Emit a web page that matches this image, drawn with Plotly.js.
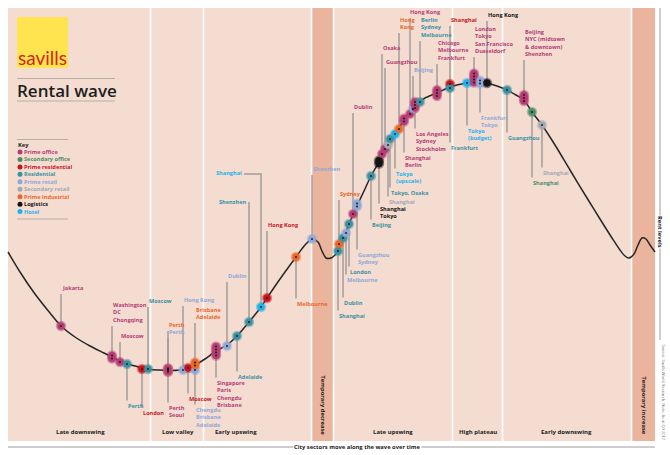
<!DOCTYPE html>
<html><head><meta charset="utf-8">
<script src="https://cdn.plot.ly/plotly-3.0.1.min.js"></script>
<style>html,body{margin:0;padding:0;background:#fff}#chart{width:670px;height:455px}</style>
</head><body><div id="chart"></div>
<script>
// ---------------- DATA ----------------
// The rental wave: position along the cycle (x) and rent level (y, drawn on a downward screen axis)
const waveX = [8,20,35,50,61,75,90,104,112,120,127,135,142,150,160,170,180,188,195,205,216,227,237,249,261,267,280,296,305,312,318,322,326,331,335,338,343,349,357,364,371,379,388,395,404,415,425,437,450,467,480,487,497,507,516,524,532,542,555,570,587,600,612,620,625,629,634,638,642,646,650,655];
const waveY = [252,272,294,313,326,337,346,353,357,361,364,366,368,369.5,370,370.5,370,368,365,359,351,345,336,322,307,298,279,257,245,239,242,251,258,258,255,251,239,224,206,191,176,162,146,134,120,105,98,93,87,83,82,83,86,90,95,100,112,125,145,170,198,219,238,250,256,258,254,245,238,239,245,252];

const sectorNames = ['Prime office','Secondary office','Prime residential','Residential','Prime retail','Secondary retail','Prime industrial','Logistics','Hotel'];
const sectorColors = ['#b53d76','#4e8c6b','#c5161f','#3a92a1','#8ea8d8','#a3a9b3','#e9682b','#141414','#1fb2ea'];

const cityNames = ['Jakarta','Washington<br>DC<br>Chongqing','Moscow','Perth','London','Moscow','Perth','Perth','Perth<br>Seoul','Hong Kong','Moscow','Chengdu<br>Brisbane<br>Adelaide','Brisbane<br>Adelaide','Singapore<br>Paris<br>Chengdu<br>Brisbane','Dublin','Adelaide','Shenzhen','Shanghai','Hong Kong','Melbourne','Shenzhen','Shanghai','Sydney','Dublin','Melbourne','London','Dublin','Guangzhou<br>Sydney','Beijing','Shanghai<br>Tokyo','Osaka','Guangzhou','Shanghai','Tokyo, Osaka','Tokyo<br>(upscale)','Hong<br>Kong','Shanghai<br>Berlin','Hong Kong','Beijing','Los Angeles<br>Sydney<br>Stockholm','Berlin<br>Sydney<br>Melbourne','Chicago<br>Melbourne<br>Frankfurt','Shanghai','Frankfurt','Tokyo<br>(budget)','London<br>Tokyo<br>San Francisco<br>Dusseldorf','Frankfurt<br>Tokyo','Hong Kong','Guangzhou','Beijing<br>NYC (midtown<br>& downtown)<br>Shenzhen','Shanghai','Shanghai'];
const citySector = [0,0,0,3,2,3,6,4,0,4,2,4,6,0,4,3,3,8,2,6,4,3,6,3,4,3,0,4,3,7,0,0,5,3,8,6,0,0,4,0,3,0,2,3,8,0,4,7,3,0,1,5];
const cityPhase = [61,112,120,127,142,148,168,168,168,183,188,195,195,216,227,237,249,261,267,296,312,338,339,343,346,349,353,357,371,379,382,385,388,390,395,399,404,410,413,415,420,437,450,450,467,474,480,487,507,524,532,542];
const cityRent = [326,357,362,364,369,369,370,370,370,370,368,370,364,351,346,336,322,307,298,257,239,251,244,238,233,224,214,205,176,162,154,149,145,139,134,129,120,114,109,105,102,93,84,88,83,78,82,83,90,98,112,125];
const cityCount = [1,2,1,1,1,1,2,1,2,1,1,1,2,4,1,1,1,1,1,1,1,1,1,1,1,1,1,2,1,2,1,1,1,1,1,1,2,1,1,3,1,3,1,1,1,4,2,1,1,3,1,1];

const phaseNames = ['Late downswing','Low valley','Early upswing','Late upswing','High plateau','Early downswing'];
const bandNames = ['Temporary decrease','Temporary increase'];

// ---------------- LAYOUT CONFIG ----------------
const labelAt = [[61,293,'up'],[112,325,'up'],[120,341,'up'],[127,401,'down'],[142,408,'down'],[148,306,'up'],[168,330,'up'],[168,337,'up'],[168,403,'down'],[183,305,'up'],[188,394,'down'],[195,405,'down'],[195,322,'up'],[216,378,'down'],[227,281,'up'],[237,372,'down'],[247,202,'elbow'],[243,173,'elbow'],[267,230,'up'],[296,299,'down'],[312,174,'up'],[338,311,'down'],[339,199,'up'],[343,298,'down'],[346,275,'down'],[349,267,'down'],[353,112,'up'],[357,250,'down'],[371,220,'down'],[379,204,'down'],[382,53,'up'],[385,67,'up'],[388,197,'down'],[390,188,'down'],[395,169,'down'],[399,32,'up'],[404,153,'down'],[409,17,'up'],[413,75,'up'],[415,129,'down'],[420,40,'up'],[437,63,'up'],[450,25,'up'],[450,143,'down'],[467,126,'down'],[474,56,'up'],[480,113,'down'],[487,20,'up'],[507,133,'down'],[524,59,'up'],[532,178,'down'],[542,168,'down']];
const phaseCenters = [80,178,236,393,478,566];
const bandCenters = [322.5,643.5];
const panelEdges = [150.5,203.5,311.5,333.5,452.5,502.5,631.5];
const FONT = 'Open Sans, sans-serif';
const PANEL = '#f4dcd1', BAND = '#ebb49d', LEADER = '#a39d99';

function rgba(hex,a){const n=parseInt(hex.slice(1),16);return `rgba(${n>>16},${(n>>8)&255},${n&255},${a})`;}

// leaders
const lx=[], ly=[];
cityNames.forEach((n,i)=>{
  const [x,y,side]=labelAt[i]; const cx=cityPhase[i], cy=cityRent[i];
  if(side==='up'){lx.push(cx,cx,null);ly.push(y+1,cy,null);}
  else if(side==='down'){lx.push(cx,cx,null);ly.push(cy,y-0.5,null);}
  else {lx.push(x+1,cx,cx,null);ly.push(y+1,y+1,cy,null);}
});
const traces=[{x:lx,y:ly,mode:'lines',line:{color:LEADER,width:1.5},hoverinfo:'skip'},
  {x:waveX,y:waveY,mode:'lines',line:{color:'#262626',width:1.5,shape:'spline',smoothing:0.8},hoverinfo:'skip'}];

// markers: halo pass, core pass, centre dots (stacked for multi-city capsules)
const MX=[],MY=[],MC=[];
cityNames.forEach((n,i)=>{const c=cityCount[i];for(let k=0;k<c;k++){MX.push(cityPhase[i]);MY.push(cityRent[i]+(k-(c-1)/2)*3);MC.push(citySector[i]);}});
traces.push({x:MX,y:MY,mode:'markers',marker:{size:10.5,color:MC.map(s=>rgba(sectorColors[s],0.45)),line:{width:0}},hoverinfo:'skip'});
traces.push({x:MX,y:MY,mode:'markers',marker:{size:7.5,color:MC.map(s=>sectorColors[s]),line:{width:0}},hoverinfo:'skip'});
traces.push({x:MX,y:MY,mode:'markers',marker:{size:2,color:'rgba(30,15,15,0.9)'},hoverinfo:'skip'});

// key
const keyY = sectorNames.map((s,i)=>152+i*7.45);
traces.push({x:sectorNames.map(()=>20),y:keyY,mode:'markers',marker:{size:5,color:sectorColors},hoverinfo:'skip'});

const shapes=[
  {type:'rect',xref:'x',yref:'y',x0:8,x1:655,y0:8,y1:441,fillcolor:PANEL,line:{width:0},layer:'below'},
  {type:'rect',xref:'x',yref:'y',x0:311.5,x1:333.5,y0:8,y1:441,fillcolor:BAND,line:{width:0},layer:'below'},
  {type:'rect',xref:'x',yref:'y',x0:631.5,x1:655,y0:8,y1:441,fillcolor:BAND,line:{width:0},layer:'below'},
  ...panelEdges.map(x=>({type:'line',xref:'x',yref:'y',x0:x,x1:x,y0:8,y1:441,line:{color:'#ffffff',width:1.6},layer:'below'})),
  {type:'rect',xref:'x',yref:'y',x0:17,x1:68,y0:17,y1:68,fillcolor:'#ffe44f',line:{width:0}},
  {type:'line',xref:'x',yref:'y',x0:17,x1:115,y0:78.5,y1:78.5,line:{color:'#b9aca6',width:1}},
  {type:'line',xref:'x',yref:'y',x0:17,x1:115,y0:101,y1:101,line:{color:'#b9aca6',width:1}},
  {type:'line',xref:'x',yref:'y',x0:17,x1:68,y0:139.5,y1:139.5,line:{color:'#b9aca6',width:1}},
  {type:'line',xref:'x',yref:'y',x0:17,x1:68,y0:219,y1:219,line:{color:'#b9aca6',width:1}},
  {type:'line',xref:'x',yref:'y',x0:8,x1:655,y0:447,y1:447,line:{color:'#9c9c9c',width:1}},
  {type:'line',xref:'x',yref:'y',x0:660,x1:660,y0:8,y1:340,line:{color:'#9c9c9c',width:1}}
];

const ann=[];
const lab=(o)=>Object.assign({showarrow:false,xref:'x',yref:'y',borderpad:0},o);
cityNames.forEach((n,i)=>{
  const [x,y,side]=labelAt[i];
  ann.push(lab({x:x,y:y,text:n,xanchor:side==='elbow'?'right':'left',yanchor:side==='up'?'bottom':(side==='down'?'top':'middle'),align:'left',
    font:{family:FONT,size:5.6,weight:700,color:sectorColors[citySector[i]]}}));
});
ann.push(lab({x:42.5,y:57,text:'savills',xanchor:'center',yanchor:'middle',font:{family:'Lato, sans-serif',size:19,color:'#d4261f'}}));
ann.push(lab({x:16,y:90,text:'Rental wave',xanchor:'left',yanchor:'middle',font:{family:FONT,size:17,weight:600,color:'#1d1d1d'}}));
ann.push(lab({x:17,y:145,text:'Key',xanchor:'left',yanchor:'middle',font:{family:FONT,size:5.8,weight:700,color:'#1d1d1d'}}));
sectorNames.forEach((s,i)=>ann.push(lab({x:23,y:keyY[i],text:s,xanchor:'left',yanchor:'middle',font:{family:FONT,size:5.6,weight:700,color:sectorColors[i]}})));
phaseNames.forEach((p,i)=>ann.push(lab({x:phaseCenters[i],y:432,text:p,xanchor:'center',yanchor:'middle',font:{family:FONT,size:6,weight:700,color:'#1d1d1d'}})));
bandNames.forEach((b,i)=>ann.push(lab({x:bandCenters[i],y:405,text:b,textangle:90,xanchor:'center',yanchor:'middle',font:{family:FONT,size:5.8,weight:700,color:'#1d1d1d'}})));
ann.push(lab({x:357,y:447,text:'City sectors move along the wave over time',bgcolor:'#ffffff',xanchor:'center',yanchor:'middle',font:{family:FONT,size:5.8,weight:700,color:'#1d1d1d'}}));
ann.push(lab({x:660,y:232,text:'Rent levels',textangle:90,bgcolor:'#ffffff',xanchor:'center',yanchor:'middle',font:{family:FONT,size:5.8,weight:700,color:'#1d1d1d'}}));
ann.push(lab({x:663.5,y:392,text:'Source: Savills World Research  Note: As at Q3 2017',textangle:90,xanchor:'center',yanchor:'middle',font:{family:FONT,size:4,color:'#777777'}}));

Plotly.newPlot('chart',traces,{width:670,height:455,margin:{l:0,r:0,t:0,b:0},paper_bgcolor:'#ffffff',plot_bgcolor:'rgba(0,0,0,0)',
  xaxis:{range:[0,670],visible:false,fixedrange:true},yaxis:{range:[455,0],visible:false,fixedrange:true},
  showlegend:false,shapes:shapes,annotations:ann},{staticPlot:true,displayModeBar:false});
</script></body></html>
